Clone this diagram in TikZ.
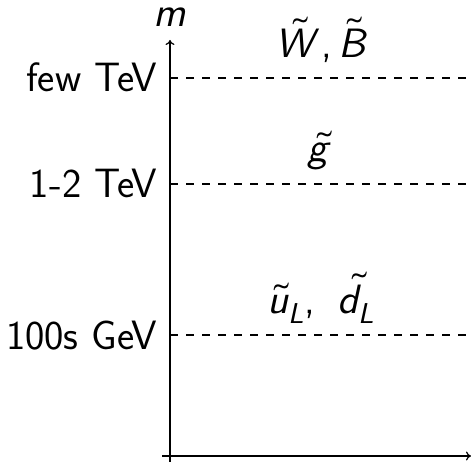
\documentclass[tikz,border=0pt]{standalone}
\usepackage{unicode-math}
\setmathfont{Latin Modern Math}
\renewcommand{\familydefault}{\sfdefault}
\usetikzlibrary{arrows.meta}
\begin{document}
\begin{tikzpicture}[x=1pt,y=-1pt,
  lbl/.style={anchor=base east,inner sep=0pt,font=\fontsize{41}{48}\selectfont\sffamily},
  part/.style={anchor=base,inner sep=0pt,font=\fontsize{41}{48}\selectfont\sffamily},
  axis/.style={line width=1.2pt,-{To[length=5pt,width=9pt]}},
  lvl/.style={line width=1.1pt,dash pattern=on 8pt off 8pt}]
\useasboundingbox (0,0) rectangle (471,462);
\coordinate (o1) at (170,462);
\coordinate (top) at (170,40);
\coordinate (o2) at (162,456);
\coordinate (right) at (471,456);
\draw[axis] (o1) -- (top);
\draw[axis] (o2) -- (right);
\coordinate (a1) at (170,78);
\coordinate (b1) at (471,78);
\coordinate (a2) at (170,184);
\coordinate (b2) at (471,184);
\coordinate (a3) at (170,335);
\coordinate (b3) at (471,335);
\draw[lvl] (a1) -- (b1);
\draw[lvl] (a2) -- (b2);
\draw[lvl] (a3) -- (b3);
\node[lbl] (l1) at (157,92) {few TeV};
\node[lbl] (l2) at (157,198) {1-2 TeV};
\node[lbl] (l3) at (157,349) {100s GeV};
\node[part,text height=0.45em] (m) at (170,27) {$\mathsfit{m}$};
\node[part] (wb) at (322,58) {$\tilde{\mathsfit{W}}\textsf{,}\, \tilde{\mathsfit{B}}$};
\node[part] (g) at (320,162) {$\tilde{\mathsfit{g}}$};
\node[part] (ud) at (321,313) {$\tilde{\mathsfit{u}}_{\mathsfit{L}}\textsf{,}\;\; \tilde{\mathsfit{d}}_{\mathsfit{L}}$};
\end{tikzpicture}
\end{document}
